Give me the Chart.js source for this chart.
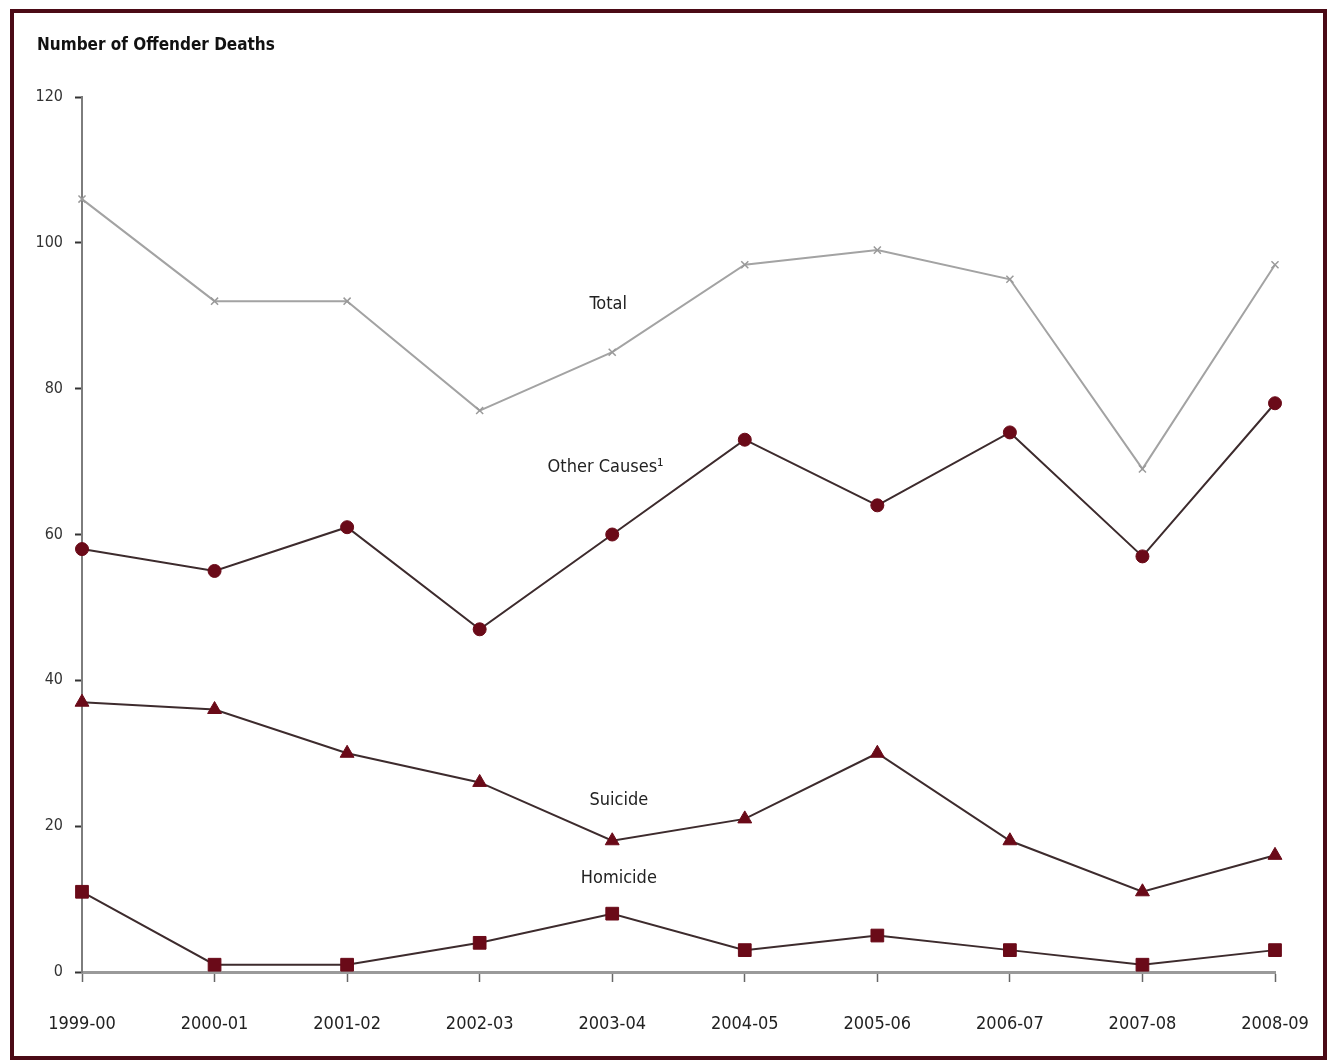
<!DOCTYPE html>
<html>
<head>
<meta charset="utf-8">
<script src="https://cdn.jsdelivr.net/npm/chart.js@4.4.1/dist/chart.umd.min.js"></script>
<style>
  html, body { margin: 0; padding: 0; background: #fff; }
  #frame {
    position: absolute; left: 10px; top: 9px;
    width: 1317px; height: 1051px; box-sizing: border-box;
    border: 4px solid #4b0a16; background: #fff;
  }
  #frame canvas { display: block; }
</style>
</head>
<body>
<div id="frame"><canvas id="deathsChart" width="1309" height="1043"></canvas></div>
<script>
var years = ['1999-00', '2000-01', '2001-02', '2002-03', '2003-04', '2004-05', '2005-06', '2006-07', '2007-08', '2008-09'];
var totalDeaths = [106, 92, 92, 77, 85, 97, 99, 95, 69, 97];
var otherCauses = [58, 55, 61, 47, 60, 73, 64, 74, 57, 78];
var suicide     = [37, 36, 30, 26, 18, 21, 30, 18, 11, 16];
var homicide    = [11, 1, 1, 4, 8, 3, 5, 3, 1, 3];
var yTicks = [0, 20, 40, 60, 80, 100, 120];

// series labels sit in the plot, placed by category index / value
var seriesNames  = ['Total', 'Other Causes\u00b9', 'Suicide', 'Homicide'];
var nameAtIndex  = [3.97, 3.95, 4.05, 4.05];
var nameAtValue  = [91.5, 69.2, 23.6, 12.9];

var narrow = '"DejaVu Sans Condensed", "Liberation Sans Narrow", "Liberation Sans", sans-serif';
var lineCol = '#3d2b2d';
var markCol = '#6a0a18';

var seriesLabels = {
  id: 'seriesLabels',
  afterDatasetsDraw: function(chart){
    var ctx = chart.ctx;
    var xs = chart.scales.x, ys = chart.scales.y;
    ctx.save();
    ctx.fillStyle = '#222';
    ctx.font = '18px ' + narrow;
    ctx.textAlign = 'center';
    ctx.textBaseline = 'middle';
    for(var i = 0; i < seriesNames.length; i++){
      ctx.fillText(seriesNames[i], xs.getPixelForValue(nameAtIndex[i]), ys.getPixelForValue(nameAtValue[i]));
    }
    // heading top-left
    ctx.font = 'bold 17px ' + narrow;
    ctx.textAlign = 'left';
    ctx.fillStyle = '#111';
    ctx.fillText('Number of Offender Deaths', 23, 33);
    ctx.restore();
  }
};

function mkSeries(label, vals, style, radius, line, mark){
  return {
    label: label, data: vals,
    borderColor: line, borderWidth: 2,
    pointStyle: style, pointRadius: radius, pointHoverRadius: radius,
    pointBackgroundColor: mark, pointBorderColor: mark, pointBorderWidth: style === 'crossRot' ? 1.5 : 1,
    tension: 0, fill: false
  };
}

new Chart(document.getElementById('deathsChart').getContext('2d'), {
  type: 'line',
  data: {
    labels: years,
    datasets: [
      mkSeries('Total', totalDeaths, 'crossRot', 5, '#a3a3a3', '#9a9a9a'),
      mkSeries('Other Causes', otherCauses, 'circle', 6.5, lineCol, markCol),
      mkSeries('Suicide', suicide, 'triangle', 8, lineCol, markCol),
      mkSeries('Homicide', homicide, 'rect', 9, lineCol, markCol)
    ]
  },
  options: {
    responsive: false, animation: false,
    layout: { padding: { left: 0, right: 48, top: 84, bottom: 0 } },
    scales: {
      x: {
        offset: false,
        grid: { display: true, drawOnChartArea: false, tickLength: 10, color: '#666', tickWidth: 1.5 },
        border: { display: true, color: '#9a9a9a', width: 3 },
        ticks: { color: '#222', font: { family: narrow, size: 18 }, padding: 32, maxRotation: 0, autoSkip: false },
        afterFit: function(s){ s.height = 84; s.paddingLeft = 0; s.paddingRight = 0; }
      },
      y: {
        min: 0, max: 120,
        afterBuildTicks: function(s){ s.ticks = yTicks.map(function(v){ return { value: v }; }); },
        grid: { display: true, drawOnChartArea: false, tickLength: 7, color: '#333', tickWidth: 2 },
        border: { display: true, color: '#7d7d7d', width: 2 },
        ticks: { color: '#333', font: { family: narrow, size: 16 }, padding: 12 },
        afterFit: function(s){ s.width = 68; }
      }
    },
    plugins: { legend: { display: false }, tooltip: { enabled: false }, title: { display: false } }
  },
  plugins: [seriesLabels]
});
</script>
</body>
</html>
